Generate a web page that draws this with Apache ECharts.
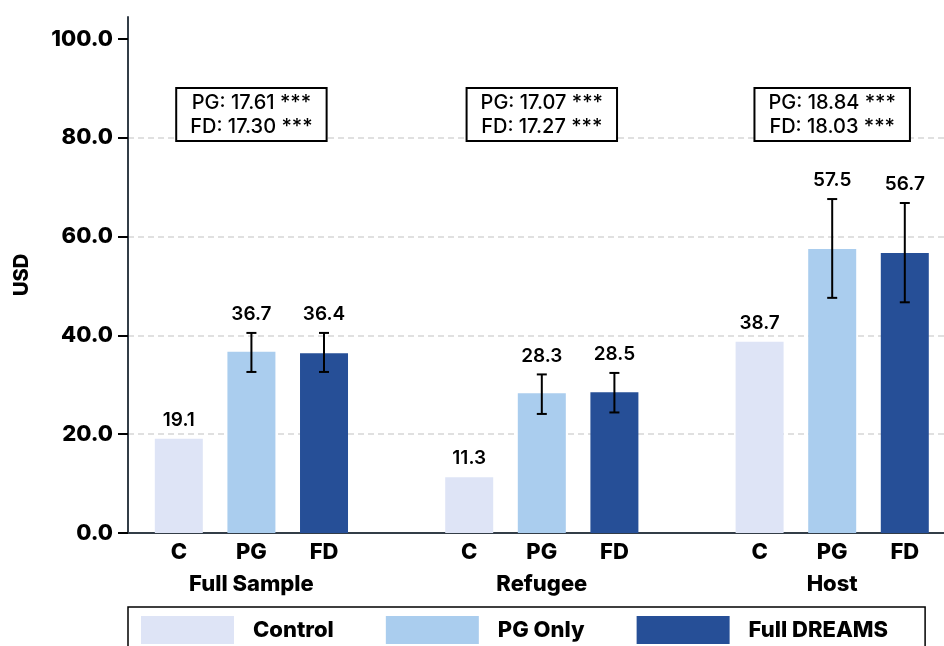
<!DOCTYPE html>
<html>
<head>
<meta charset="utf-8">
<script src="https://cdn.jsdelivr.net/npm/echarts@6/dist/echarts.min.js"></script>
<style>html,body{margin:0;padding:0;background:#fff}#c{width:944px;height:646px}</style>
</head>
<body>
<div id="c"></div>
<script>
// ---- data ----
const groups = ['Full Sample', 'Refugee', 'Host'];
const arms = ['C', 'PG', 'FD'];
const seriesNames = ['Control', 'PG Only', 'Full DREAMS'];
const controlVals = [19.1, 11.3, 38.7];
const pgVals = [36.7, 28.3, 57.5];
const fdVals = [36.4, 28.5, 56.7];
const pgLow = [32.6, 24.1, 47.6];
const pgHigh = [40.5, 32.1, 67.6];
const fdLow = [32.6, 24.4, 46.7];
const fdHigh = [40.5, 32.4, 66.8];
const annotPG = ['17.61', '17.07', '18.84'];
const annotFD = ['17.30', '17.27', '18.03'];
const annotStars = ['***', '***', '***'];
const yTicks = [0, 20, 40, 60, 80, 100];
const annotLevel = 84.7;

// ---- build ----
const colors = ['#dee4f6', '#aacdee', '#264f97'];
const FONT = 'Inter';
const slot = (g, k) => g * 4 + k;
const valsBy = [controlVals, pgVals, fdVals];
const lowBy = [controlVals, pgLow, fdLow];
const highBy = [controlVals, pgHigh, fdHigh];

const tickPos = [], tickNames = {};
groups.forEach((g, gi) => arms.forEach((a, k) => { tickPos.push(slot(gi, k)); tickNames[slot(gi, k)] = a; }));
const groupPos = groups.map((g, gi) => slot(gi, 1));
const groupNames = {};
groups.forEach((g, gi) => { groupNames[slot(gi, 1)] = g; });

const barSeries = seriesNames.map((name, k) => ({
  name, type: 'bar', xAxisIndex: 0,
  barWidth: 48, barGap: '-100%',
  itemStyle: { color: colors[k] },
  data: groups.map((g, gi) => [slot(gi, k), valsBy[k][gi]]),
  z: 2
}));

const errData = [];
groups.forEach((g, gi) => arms.forEach((a, k) => {
  errData.push([slot(gi, k), valsBy[k][gi], lowBy[k][gi], highBy[k][gi]]);
}));

const errSeries = {
  type: 'custom', name: 'err', xAxisIndex: 0,
  encode: { x: 0, y: [1, 2, 3] },
  data: errData, z: 5, silent: true,
  renderItem(params, api) {
    const x = api.value(0), mean = api.value(1), lo = api.value(2), hi = api.value(3);
    const hasErr = hi > mean;
    const children = [];
    const pTop = api.coord([x, hasErr ? hi : mean]);
    if (hasErr) {
      const pLo = api.coord([x, lo]);
      const st = { stroke: '#000', lineWidth: 2 };
      children.push({ type: 'line', shape: { x1: pLo[0], y1: pLo[1], x2: pTop[0], y2: pTop[1] }, style: st });
      children.push({ type: 'line', shape: { x1: pLo[0] - 5, y1: pLo[1], x2: pLo[0] + 5, y2: pLo[1] }, style: st });
      children.push({ type: 'line', shape: { x1: pTop[0] - 5, y1: pTop[1], x2: pTop[0] + 5, y2: pTop[1] }, style: st });
    }
    children.push({
      type: 'text',
      style: {
        text: mean.toFixed(1), x: pTop[0], y: pTop[1] - 9,
        align: 'center', verticalAlign: 'bottom',
        font: '600 19px ' + FONT, fill: '#000'
      }
    });
    return { type: 'group', children };
  }
};

const annotSeries = {
  type: 'scatter', name: 'annot', xAxisIndex: 0, symbolSize: 0, silent: true, z: 6,
  itemStyle: { opacity: 1 },
  data: groups.map((g, gi) => [slot(gi, 1), annotLevel]),
  label: {
    show: true, position: 'inside', opacity: 1,
    formatter: p => 'PG: ' + annotPG[p.dataIndex] + ' ' + annotStars[p.dataIndex] + '\nFD: ' + annotFD[p.dataIndex] + ' ' + annotStars[p.dataIndex],
    fontFamily: FONT, fontSize: 20, fontWeight: 500, color: '#000', lineHeight: 24,
    backgroundColor: '#fff', borderColor: '#000', borderWidth: 2, padding: [2, 13, 1, 13]
  }
};

const xMin = -0.7, xMax = 10.54;
const chart = echarts.init(document.getElementById('c'), null, { renderer: 'canvas' });
chart.setOption({
  animation: false,
  backgroundColor: '#fff',
  grid: { left: 128, right: 0, top: 17, bottom: 113, containLabel: false },
  xAxis: [{
    type: 'value', min: xMin, max: xMax,
    axisLine: { show: true, onZero: false, lineStyle: { color: '#333d47', width: 2 } },
    axisTick: { show: false },
    splitLine: { show: false },
    axisLabel: {
      customValues: tickPos, formatter: v => tickNames[v] || '',
      fontFamily: FONT, fontSize: 22, fontWeight: 800, color: '#000', margin: 8
    }
  }, {
    type: 'value', min: xMin, max: xMax, position: 'bottom', offset: 32,
    axisLine: { show: false }, axisTick: { show: false }, splitLine: { show: false },
    axisLabel: {
      customValues: groupPos, formatter: v => groupNames[v] || '',
      fontFamily: FONT, fontSize: 22, fontWeight: 800, color: '#000', margin: 8
    }
  }],
  yAxis: {
    type: 'value', min: 0, max: 104.45,
    name: 'USD', nameLocation: 'middle', nameGap: 96, nameRotate: 90,
    nameTextStyle: { fontFamily: FONT, fontSize: 20, fontWeight: 800, color: '#000' },
    axisLine: { show: true, onZero: false, lineStyle: { color: '#333d47', width: 2 } },
    axisTick: { show: true, customValues: yTicks, length: 10, lineStyle: { color: '#000', width: 2 } },
    axisLabel: {
      customValues: yTicks, formatter: v => v.toFixed(1),
      fontFamily: FONT, fontSize: 22, fontWeight: 800, color: '#000', margin: 15
    },
    splitLine: { show: true, showMaxLine: false, lineStyle: { color: '#d6d6d6', width: 1.5, type: [6, 4] } }
  },
  legend: {
    data: seriesNames, left: 128, top: 607, orient: 'horizontal',
    padding: [9, 37, 10, 13], itemGap: 52, itemWidth: 93, itemHeight: 28,
    borderColor: '#000', borderWidth: 1.5, backgroundColor: '#fff',
    icon: 'rect', selectedMode: false,
    textStyle: { fontFamily: FONT, fontSize: 22, fontWeight: 800, color: '#000', padding: [0, 0, 0, 14] }
  },
  series: [...barSeries, errSeries, annotSeries]
});
</script>
</body>
</html>
